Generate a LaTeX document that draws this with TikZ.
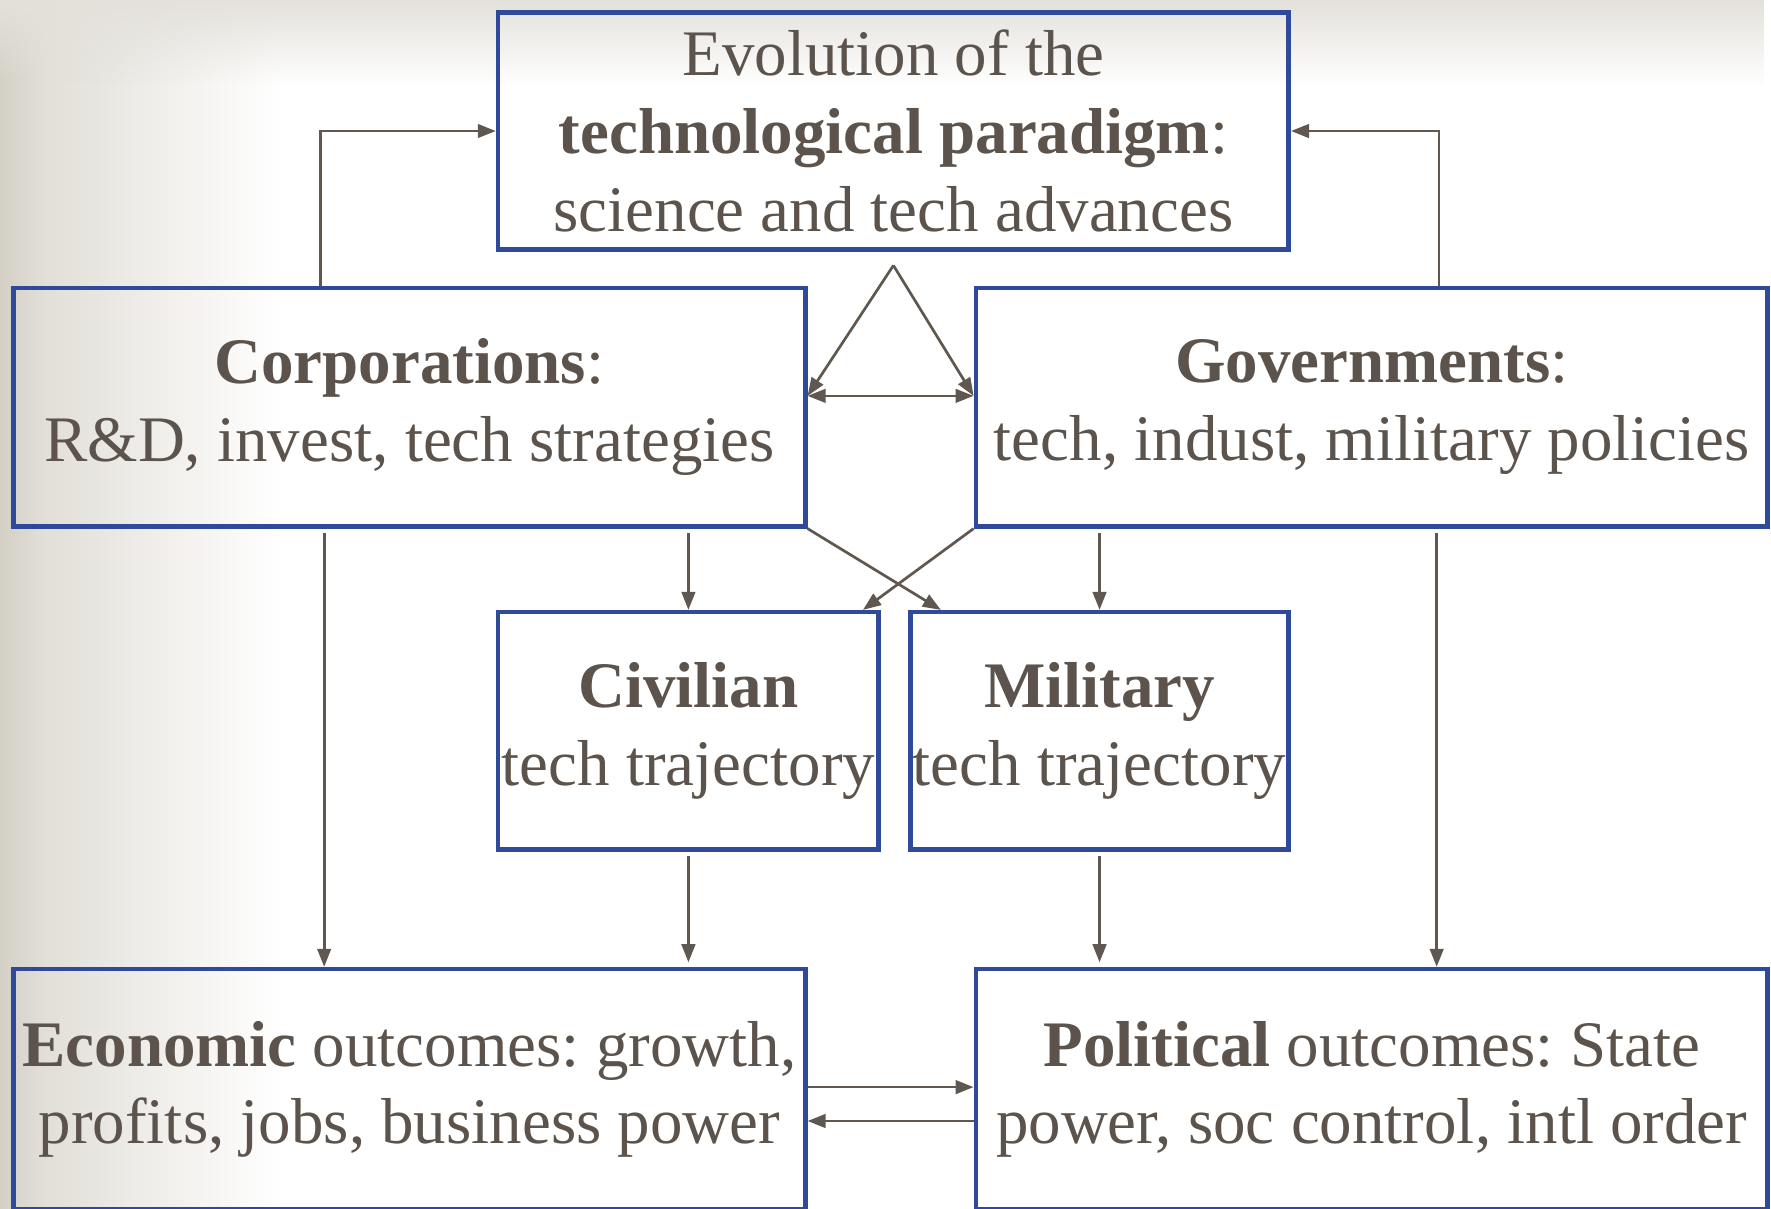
\documentclass[tikz,border=0pt]{standalone}
\usepackage{fontspec}
\setmainfont{Liberation Serif}
\usetikzlibrary{arrows.meta,calc,fadings}
\frenchspacing

\definecolor{boxblue}{RGB}{47,74,155}
\definecolor{inkgray}{RGB}{92,84,76}
\definecolor{linegray}{RGB}{96,88,80}
\definecolor{edgebg}{RGB}{212,208,198}
\definecolor{midbg}{RGB}{226,223,216}
\definecolor{topbg}{RGB}{228,225,219}

\tikzfading[name=fadedown, top color=transparent!0, bottom color=transparent!100]

\tikzset{
  panel/.style={draw=boxblue, line width=4pt, inner sep=0pt, align=center,
    text=inkgray, font=\fontsize{57.5}{69}\selectfont},
  arr/.style={draw=linegray, line width=2.4pt,
    -{Triangle[length=16pt,width=12pt]}},
  dblarr/.style={draw=linegray, line width=2.4pt,
    {Triangle[length=16pt,width=12pt]}-{Triangle[length=16pt,width=12pt]}}
}

\begin{document}
\begin{tikzpicture}[x=1pt,y=-1pt]
\useasboundingbox (0,0) rectangle (1568,1070);

% background: warm grey edge on the left, soft grey band along the top
\fill[white] (0,0) rectangle (1568,1070);
\shade[left color=edgebg, right color=midbg] (0,0) rectangle (40,1070);
\shade[left color=midbg, right color=white] (40,0) rectangle (250,1070);
\fill[topbg, path fading=fadedown] (0,0) rectangle (1568,75);

% boxes
\node[panel, minimum width=700pt, minimum height=210pt] (top) at (791,116)
  {Evolution of the\\\textbf{technological paradigm}:\\science and tech advances};
\node[panel, minimum width=701pt, minimum height=211pt] (corp) at (362.5,360.5)
  {\textbf{Corporations}:\\R\&D, invest, tech strategies};
\node[panel, minimum width=701pt, minimum height=211pt] (gov) at (1214.5,360.5)
  {\textbf{Governments}:\\tech, indust, military policies};
\node[panel, minimum width=337pt, minimum height=210pt] (civ) at (609.5,647)
  {\textbf{Civilian}\\tech trajectory};
\node[panel, minimum width=335pt, minimum height=210pt] (mil) at (973.5,647)
  {\textbf{Military}\\tech trajectory};
\node[panel, minimum width=701pt, minimum height=213pt] (econ) at (362.5,964.5)
  {\textbf{Economic} outcomes: growth,\\profits, jobs, business power};
\node[panel, minimum width=701pt, minimum height=213pt] (pol) at (1214.5,964.5)
  {\textbf{Political} outcomes: State\\power, soc control, intl order};

% feedback into the paradigm box
\draw[arr] ($(corp.north west)+(274,0)$) |- (top.west);
\draw[arr] ($(gov.north west)+(412,0)$) |- (top.east);

% triangle between paradigm, corporations and governments
\coordinate (apex) at (791,235);
\coordinate (cpR) at ($(corp.east)+(0,-10)$);
\coordinate (gvL) at ($(gov.west)+(0,-10)$);
\draw[arr] (apex) -- (cpR);
\draw[arr] (apex) -- (gvL);
\draw[dblarr] (cpR) -- (gvL);

% into the trajectories
\draw[arr, shorten <=4pt] (corp.south -| civ.north) -- (civ.north);
\draw[arr, shorten <=4pt] (gov.south -| mil.north) -- (mil.north);
\draw[arr] (corp.south east) -- ($(mil.north west)+(29,0)$);
\draw[arr] (gov.south west) -- ($(civ.north east)+(-16,0)$);

% into the outcomes
\coordinate (cpD) at ($(corp.south west)+(277,4)$);
\coordinate (gvD) at ($(gov.south west)+(410,4)$);
\draw[arr] (cpD) -- (cpD |- econ.north);
\draw[arr] (gvD) -- (gvD |- pol.north);
\draw[arr, shorten <=4pt, shorten >=4pt] (civ.south) -- (civ.south |- econ.north);
\draw[arr, shorten <=4pt, shorten >=4pt] (mil.south) -- (mil.south |- pol.north);

% exchange between outcomes
\draw[arr] ($(econ.east)+(0,-2)$) -- ($(pol.west)+(0,-2)$);
\draw[arr] ($(pol.west)+(0,28)$) -- ($(econ.east)+(0,28)$);
\end{tikzpicture}
\end{document}
